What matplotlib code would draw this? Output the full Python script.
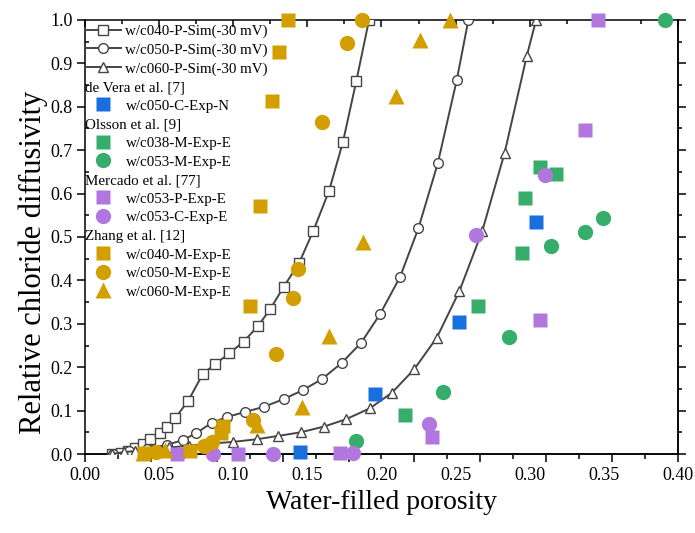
import matplotlib.pyplot as plt
from matplotlib.lines import Line2D
import numpy as np

plt.rcParams['font.family'] = ['Liberation Serif', 'DejaVu Serif']

# simulated curves
sim040_x = [0.018, 0.024, 0.029, 0.0337, 0.039, 0.0439, 0.0506, 0.0555, 0.0607, 0.0697, 0.0794, 0.0877,
            0.0974, 0.107, 0.1165, 0.125, 0.134, 0.1444, 0.154, 0.1646, 0.174, 0.183, 0.1916]
sim040_y = [0.0, 0.003, 0.007, 0.013, 0.023, 0.034, 0.048, 0.063, 0.082, 0.123, 0.184, 0.207,
            0.232, 0.259, 0.294, 0.334, 0.385, 0.44, 0.514, 0.606, 0.719, 0.859, 1.0]
sim050_x = [0.019, 0.03, 0.042, 0.055, 0.066, 0.075, 0.0855, 0.0956, 0.108, 0.121, 0.1343, 0.1469,
            0.160, 0.1732, 0.1862, 0.199, 0.2126, 0.2249, 0.238, 0.2508, 0.2586]
sim050_y = [0.0, 0.006, 0.012, 0.021, 0.032, 0.048, 0.072, 0.085, 0.097, 0.109, 0.127, 0.147,
            0.173, 0.210, 0.256, 0.322, 0.4085, 0.52, 0.67, 0.862, 1.0]
sim060_x = [0.018, 0.026, 0.034, 0.045, 0.057, 0.07, 0.085, 0.100, 0.1159, 0.130, 0.1455, 0.161,
            0.176, 0.192, 0.207, 0.222, 0.2373, 0.2526, 0.268, 0.283, 0.298, 0.3043]
sim060_y = [0.0, 0.004, 0.007, 0.011, 0.015, 0.019, 0.024, 0.028, 0.034, 0.0415, 0.050, 0.063,
            0.080, 0.105, 0.141, 0.195, 0.268, 0.3756, 0.514, 0.693, 0.917, 1.0]

# de Vera et al. [7]
devera050_x = [0.145, 0.1957, 0.2526, 0.3043]
devera050_y = [0.005, 0.138, 0.305, 0.535]
# Olsson et al. [9]
olsson038_x = [0.216, 0.265, 0.295, 0.297, 0.307, 0.318]
olsson038_y = [0.09, 0.34, 0.462, 0.589, 0.662, 0.645]
olsson053_x = [0.183, 0.2414, 0.2857, 0.3144, 0.337, 0.3497, 0.391]
olsson053_y = [0.030, 0.1436, 0.270, 0.48, 0.512, 0.5445, 1.0]
# Mercado et al. [77]
mercadoP_x = [0.062, 0.103, 0.172, 0.234, 0.307, 0.337, 0.346]
mercadoP_y = [0.0, 0.0, 0.003, 0.04, 0.309, 0.746, 1.0]
mercadoC_x = [0.0866, 0.127, 0.181, 0.2323, 0.2638, 0.310]
mercadoC_y = [0.0, 0.0, 0.003, 0.07, 0.505, 0.643]
# Zhang et al. [12]
zhang040_x = [0.040, 0.071, 0.092, 0.093, 0.111, 0.118, 0.126, 0.131, 0.137]
zhang040_y = [0.002, 0.008, 0.048, 0.065, 0.341, 0.572, 0.814, 0.926, 1.0]
zhang050_x = [0.048, 0.080, 0.086, 0.113, 0.129, 0.140, 0.144, 0.160, 0.177, 0.187]
zhang050_y = [0.005, 0.018, 0.028, 0.078, 0.230, 0.359, 0.426, 0.765, 0.947, 1.0]
zhang060_x = [0.039, 0.054, 0.116, 0.1466, 0.1646, 0.1876, 0.21, 0.226, 0.2463]
zhang060_y = [0.002, 0.010, 0.067, 0.109, 0.272, 0.488, 0.824, 0.954, 1.0]

blue = '#1a6fdf'
green = '#37ad6b'
purple = '#b177de'
orange = '#d29e00'
gray = '#444444'

fig = plt.figure(figsize=(6.95, 5.33), dpi=100)
ax = fig.add_axes([0.1223, 0.1482, 0.8532, 0.8143])

simstyle = dict(color=gray, lw=1.4, mfc='white', mec=gray, mew=1.0, ms=7)
ax.plot(sim040_x, sim040_y, marker='s', zorder=3, **simstyle)
ax.plot(sim050_x, sim050_y, marker='o', zorder=3, **simstyle)
ax.plot(sim060_x, sim060_y, marker='^', zorder=3, **simstyle)

def pts(x, y, m, c, ms):
    ax.plot(x, y, ls='none', marker=m, color=c, ms=ms, mec='none', zorder=4, clip_on=False)

pts(devera050_x, devera050_y, 's', blue, 9.5)
pts(olsson038_x, olsson038_y, 's', green, 9.5)
pts(olsson053_x, olsson053_y, 'o', green, 11)
pts(mercadoP_x, mercadoP_y, 's', purple, 9.5)
pts(mercadoC_x, mercadoC_y, 'o', purple, 11)
pts(zhang040_x, zhang040_y, 's', orange, 9.5)
pts(zhang050_x, zhang050_y, 'o', orange, 11)
pts(zhang060_x, zhang060_y, '^', orange, 11)

ax.set_xlim(0, 0.40)
ax.set_ylim(0, 1.0)

# x: labels every 0.05, top ticks inward
ax.set_xticks(np.arange(0, 0.401, 0.05))
ax.set_xticklabels(['%.2f' % v for v in np.arange(0, 0.401, 0.05)])
ax.set_xticks(np.arange(0.025, 0.4, 0.05), minor=True)
ax.tick_params(axis='x', which='both', bottom=False, top=True, labelbottom=True,
               direction='in', labelsize=13, pad=9)
ax.tick_params(axis='x', which='major', length=5, width=1.1)
ax.tick_params(axis='x', which='minor', length=3, width=1.1)

# bottom tick marks
sx = ax.secondary_xaxis('bottom')
sx.set_xticks(np.arange(0, 0.4001, 0.4 / 9))
sx.set_xticks(np.arange(0.4 / 18, 0.4, 0.4 / 9), minor=True)
sx.set_xticklabels([])
sx.tick_params(which='major', direction='out', length=6, width=1.1)
sx.tick_params(which='minor', direction='out', length=3.5, width=1.1)
sx.spines['bottom'].set_linewidth(1.1)

# y ticks
ax.set_yticks(np.arange(0, 1.01, 0.1))
ax.set_yticks(np.arange(0.05, 1.0, 0.1), minor=True)
ax.tick_params(axis='y', which='both', labelsize=13, width=1.1, pad=3)
ax.tick_params(axis='y', which='major', direction='out', length=6)
ax.tick_params(axis='y', which='minor', direction='in', length=3)
sy = ax.secondary_yaxis('right')
sy.set_yticks(np.arange(0, 1.01, 0.1))
sy.set_yticks(np.arange(0.05, 1.0, 0.1), minor=True)
sy.set_yticklabels([])
sy.tick_params(which='major', direction='out', length=6, width=1.1)
sy.tick_params(which='minor', direction='out', length=3, width=1.1)
sy.spines['right'].set_linewidth(1.1)

for s in ax.spines.values():
    s.set_linewidth(1.1)

ax.set_xlabel('Water-filled porosity', fontsize=20, labelpad=5)
ax.set_ylabel('Relative chloride diffusivity', fontsize=22)
ax.yaxis.set_label_coords(-0.062, 0.442)

# legend with group headers
blank = Line2D([], [], ls='none')
def mk(m, c, ms):
    return Line2D([], [], ls='none', marker=m, color=c, ms=ms, mec='none')
handles = [
    Line2D([], [], marker='s', **simstyle),
    Line2D([], [], marker='o', **simstyle),
    Line2D([], [], marker='^', **simstyle),
    blank, mk('s', blue, 9.5),
    blank, mk('s', green, 9.5), mk('o', green, 11),
    blank, mk('s', purple, 9.5), mk('o', purple, 11),
    blank, mk('s', orange, 9.5), mk('o', orange, 11), mk('^', orange, 11),
]
labels = ['w/c040-P-Sim(-30 mV)', 'w/c050-P-Sim(-30 mV)', 'w/c060-P-Sim(-30 mV)',
          'de Vera et al. [7]', 'w/c050-C-Exp-N',
          'Olsson et al. [9]', 'w/c038-M-Exp-E', 'w/c053-M-Exp-E',
          'Mercado et al. [77]', 'w/c053-P-Exp-E', 'w/c053-C-Exp-E',
          'Zhang et al. [12]', 'w/c040-M-Exp-E', 'w/c050-M-Exp-E', 'w/c060-M-Exp-E']
headers = {3, 5, 8, 11}
leg = ax.legend(handles, labels, loc='upper left', bbox_to_anchor=(0.0, 0.99), frameon=False,
                fontsize=10.8, handlelength=2.4, handletextpad=0.3, labelspacing=0.34,
                borderpad=0.0, borderaxespad=0.0)
rows = leg._legend_handle_box.get_children()[0].get_children()
for i, row in enumerate(rows):
    if i in headers:
        row.get_children()[0].width = 0
        row.sep = 0

fig.savefig('out.png', dpi=100)
